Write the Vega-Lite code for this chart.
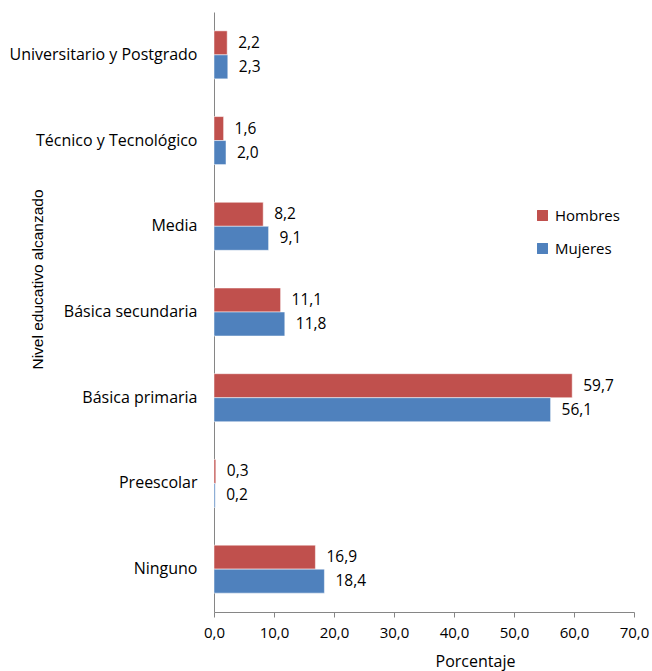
{
  "$schema": "https://vega.github.io/schema/vega-lite/v6.json",
  "autosize": {"type": "none"},
  "padding": {"left": 214, "top": 12, "right": 18, "bottom": 59},
  "width": 420,
  "height": 600,
  "config": {
    "locale": {"number": {"decimal": ",", "thousands": ".", "grouping": [3], "currency": ["", " €"]}},
    "view": {"stroke": null},
    "font": "Open Sans",
    "axis": {"domainColor": "#868686", "tickColor": "#868686", "labelColor": "#000000", "titleColor": "#000000", "grid": false}
  },
  "data": {
    "values": [
      {"nivel": "Universitario y Postgrado", "sexo": "Hombres", "valor": 2.2},
      {"nivel": "Universitario y Postgrado", "sexo": "Mujeres", "valor": 2.3},
      {"nivel": "Técnico y Tecnológico", "sexo": "Hombres", "valor": 1.6},
      {"nivel": "Técnico y Tecnológico", "sexo": "Mujeres", "valor": 2.0},
      {"nivel": "Media", "sexo": "Hombres", "valor": 8.2},
      {"nivel": "Media", "sexo": "Mujeres", "valor": 9.1},
      {"nivel": "Básica secundaria", "sexo": "Hombres", "valor": 11.1},
      {"nivel": "Básica secundaria", "sexo": "Mujeres", "valor": 11.8},
      {"nivel": "Básica primaria", "sexo": "Hombres", "valor": 59.7},
      {"nivel": "Básica primaria", "sexo": "Mujeres", "valor": 56.1},
      {"nivel": "Preescolar", "sexo": "Hombres", "valor": 0.3},
      {"nivel": "Preescolar", "sexo": "Mujeres", "valor": 0.2},
      {"nivel": "Ninguno", "sexo": "Hombres", "valor": 16.9},
      {"nivel": "Ninguno", "sexo": "Mujeres", "valor": 18.4}
    ]
  },
  "encoding": {
    "y": {
      "field": "nivel", "type": "nominal", "sort": null,
      "scale": {"paddingInner": 0.44, "paddingOuter": 0.22},
      "axis": {
        "title": "Nivel educativo alcanzado", "ticks": false, "labelPadding": 17, "labelLimit": 300,
        "labelFontSize": 16, "labelFont": "Open Sans",
        "titleFont": "Liberation Sans", "titleFontSize": 15.5, "titleFontWeight": "normal",
        "titleAngle": -90, "titleX": -177, "titleY": 267, "titleAlign": "center", "titleBaseline": "middle"
      }
    },
    "yOffset": {"field": "sexo", "type": "nominal", "sort": ["Hombres", "Mujeres"]},
    "x": {
      "field": "valor", "type": "quantitative",
      "scale": {"domain": [0, 70], "nice": false},
      "axis": {
        "title": "Porcentaje", "values": [0, 10, 20, 30, 40, 50, 60, 70], "format": ".1f",
        "tickSize": 5, "labelFontSize": 15, "labelPadding": 8, "labelFlush": false,
        "titleFontSize": 16, "titleFontWeight": "normal", "titleX": 261, "titleY": 49, "titleBaseline": "middle"
      }
    }
  },
  "layer": [
    {
      "mark": {"type": "bar", "stroke": "#ffffff", "strokeWidth": 0.5},
      "encoding": {
        "color": {
          "field": "sexo", "type": "nominal", "sort": ["Hombres", "Mujeres"],
          "scale": {"domain": ["Hombres", "Mujeres"], "range": ["#C0504D", "#4F81BD"]},
          "legend": {
            "title": null, "orient": "none", "legendX": 321, "legendY": 196,
            "symbolType": "square", "symbolSize": 120, "symbolStrokeWidth": 0,
            "labelFontSize": 15, "rowPadding": 17, "labelOffset": 5
          }
        }
      }
    },
    {
      "mark": {"type": "text", "align": "left", "dx": 11, "fontSize": 15.5, "color": "#000000"},
      "encoding": {
        "text": {"field": "valor", "type": "quantitative", "format": ".1f"}
      }
    }
  ]
}
